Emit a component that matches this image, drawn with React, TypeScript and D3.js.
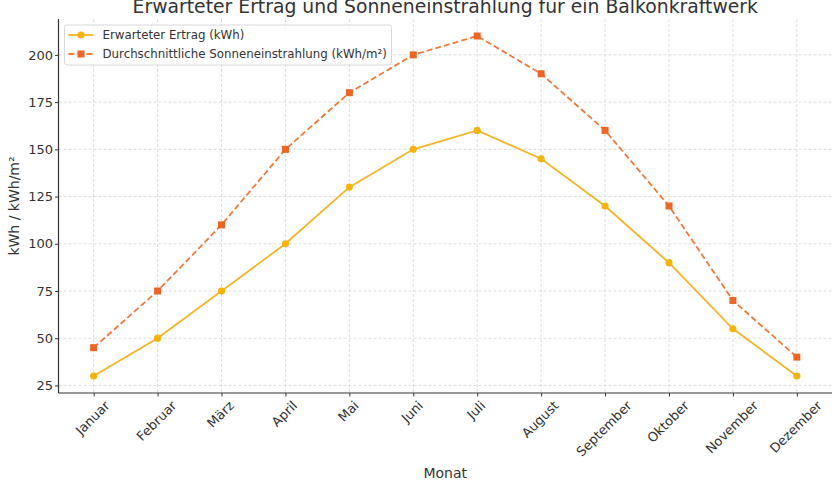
import { useEffect, useRef } from 'react';
import * as d3 from 'd3';

// Monatswerte
const months = [
  'Januar', 'Februar', 'März', 'April', 'Mai', 'Juni',
  'Juli', 'August', 'September', 'Oktober', 'November', 'Dezember',
];
const ertrag = [30, 50, 75, 100, 130, 150, 160, 145, 120, 90, 55, 30];
const einstrahlung = [45, 75, 110, 150, 180, 200, 210, 190, 160, 120, 70, 40];
const yTicks = [25, 50, 75, 100, 125, 150, 175, 200];

const FONT = '"DejaVu Sans", sans-serif';

export default function App() {
  const svgRef = useRef<SVGSVGElement>(null);

  useEffect(() => {
    document.body.style.margin = '0';
    if (!svgRef.current) return;
    const width = 840;
    const height = 480;
    const margin = { top: 19, right: 8, bottom: 87, left: 58.5 };
    const w = width - margin.left - margin.right;
    const h = height - margin.top - margin.bottom;

    const svg = d3.select(svgRef.current);
    svg.selectAll('*').remove();

    const x = d3.scaleLinear()
      .domain([-0.55, months.length - 1 + 0.55])
      .range([0, w]);
    const allVals = [...ertrag, ...einstrahlung];
    const lo = d3.min(allVals)!;
    const hi = d3.max(allVals)!;
    const pad = (hi - lo) * 0.05;
    const y = d3.scaleLinear().domain([lo - pad, hi + pad]).range([h, 0]);

    const g = svg.append('g')
      .attr('transform', `translate(${margin.left},${margin.top})`);

    // Gitter
    g.append('g')
      .selectAll('line')
      .data(months)
      .join('line')
      .attr('x1', (_, i) => x(i))
      .attr('x2', (_, i) => x(i))
      .attr('y1', 0)
      .attr('y2', h)
      .attr('stroke', '#d4d4d4')
      .attr('stroke-width', 0.8)
      .attr('stroke-dasharray', '3,2');
    g.append('g')
      .selectAll('line')
      .data(yTicks)
      .join('line')
      .attr('x1', 0)
      .attr('x2', w)
      .attr('y1', d => y(d))
      .attr('y2', d => y(d))
      .attr('stroke', '#d4d4d4')
      .attr('stroke-width', 0.8)
      .attr('stroke-dasharray', '3,2');

    // Achsen
    const yAxis = g.append('g')
      .call(d3.axisLeft(y).tickValues(yTicks).tickSize(3.5).tickPadding(2));
    yAxis.select('.domain').remove();
    yAxis.selectAll('line').attr('stroke', '#333');
    yAxis.selectAll('text')
      .attr('fill', '#333')
      .style('font-family', FONT)
      .style('font-size', '13px');

    const xAxis = g.append('g')
      .attr('transform', `translate(0,${h})`)
      .call(d3.axisBottom(x).tickValues(d3.range(months.length)).tickSize(3.5).tickFormat(() => ''));
    xAxis.select('.domain').remove();
    xAxis.selectAll('line').attr('stroke', '#333');

    // Monatsnamen, um 45° gedreht und mittig unter dem Tick
    const labelTop = h + 6;
    months.forEach((m, i) => {
      const t = g.append('text')
        .attr('text-anchor', 'middle')
        .attr('dominant-baseline', 'central')
        .attr('fill', '#333')
        .style('font-family', FONT)
        .style('font-size', '13px')
        .text(m);
      const len = (t.node() as SVGTextElement).getComputedTextLength();
      const bh = (len + 12) * Math.SQRT1_2;
      const cx = x(i) - 1;
      const cy = labelTop + bh / 2;
      t.attr('x', cx).attr('y', cy).attr('transform', `rotate(-45,${cx},${cy})`);
    });

    // Achsenlinien
    g.append('line')
      .attr('x1', 0).attr('x2', 0).attr('y1', 0).attr('y2', h)
      .attr('stroke', '#333').attr('stroke-width', 1.2);
    g.append('line')
      .attr('x1', 0).attr('x2', w).attr('y1', h).attr('y2', h)
      .attr('stroke', '#333').attr('stroke-width', 1.2);

    const line = d3.line<number>()
      .x((_, i) => x(i))
      .y(d => y(d));

    // Sonneneinstrahlung
    g.append('path')
      .datum(einstrahlung)
      .attr('d', line)
      .attr('fill', 'none')
      .attr('stroke', '#ec7a3c')
      .attr('stroke-width', 1.8)
      .attr('stroke-dasharray', '6,3');
    g.append('g')
      .selectAll('rect')
      .data(einstrahlung)
      .join('rect')
      .attr('x', (_, i) => x(i) - 3.5)
      .attr('y', d => y(d) - 3.5)
      .attr('width', 7)
      .attr('height', 7)
      .attr('fill', '#eb6526');

    // Ertrag
    g.append('path')
      .datum(ertrag)
      .attr('d', line)
      .attr('fill', 'none')
      .attr('stroke', '#f4b427')
      .attr('stroke-width', 1.8);
    g.append('g')
      .selectAll('circle')
      .data(ertrag)
      .join('circle')
      .attr('cx', (_, i) => x(i))
      .attr('cy', d => y(d))
      .attr('r', 3.6)
      .attr('fill', '#f6b30f');

    // Titel und Achsenbeschriftungen
    svg.append('text')
      .attr('x', margin.left + w / 2)
      .attr('y', 13)
      .attr('text-anchor', 'middle')
      .attr('fill', '#333')
      .style('font-family', FONT)
      .style('font-size', '18.8px')
      .text('Erwarteter Ertrag und Sonneneinstrahlung für ein Balkonkraftwerk');
    svg.append('text')
      .attr('x', margin.left + w / 2)
      .attr('y', 478)
      .attr('text-anchor', 'middle')
      .attr('fill', '#333')
      .style('font-family', FONT)
      .style('font-size', '14px')
      .text('Monat');
    svg.append('text')
      .attr('transform', `translate(19,${margin.top + h / 2}) rotate(-90)`)
      .attr('text-anchor', 'middle')
      .attr('fill', '#333')
      .style('font-family', FONT)
      .style('font-size', '14px')
      .text('kWh / kWh/m²');

    // Legende
    const legend = g.append('g').attr('transform', 'translate(6,6)');
    legend.append('rect')
      .attr('width', 327)
      .attr('height', 40)
      .attr('rx', 3)
      .attr('fill', 'white')
      .attr('fill-opacity', 0.85)
      .attr('stroke', '#d8d8d8');
    const entries = [
      { label: 'Erwarteter Ertrag (kWh)', color: '#f4b427', marker: '#f6b30f', dash: null, shape: 'circle' },
      { label: 'Durchschnittliche Sonneneinstrahlung (kWh/m²)', color: '#ec7a3c', marker: '#eb6526', dash: '6,3', shape: 'square' },
    ];
    entries.forEach((e, i) => {
      const row = legend.append('g').attr('transform', `translate(0,${10 + i * 19})`);
      row.append('line')
        .attr('x1', 4).attr('x2', 29).attr('y1', 0).attr('y2', 0)
        .attr('stroke', e.color)
        .attr('stroke-width', 1.8)
        .attr('stroke-dasharray', e.dash);
      if (e.shape === 'circle') {
        row.append('circle').attr('cx', 16.5).attr('cy', 0).attr('r', 3.6).attr('fill', e.marker);
      } else {
        row.append('rect').attr('x', 13).attr('y', -3.5).attr('width', 7).attr('height', 7).attr('fill', e.marker);
      }
      row.append('text')
        .attr('x', 38)
        .attr('y', 0)
        .attr('dominant-baseline', 'central')
        .attr('fill', '#333')
        .style('font-family', FONT)
        .style('font-size', '11.8px')
        .text(e.label);
    });
  }, []);

  return <svg ref={svgRef} width={840} height={480} style={{ display: 'block' }} />;
}
